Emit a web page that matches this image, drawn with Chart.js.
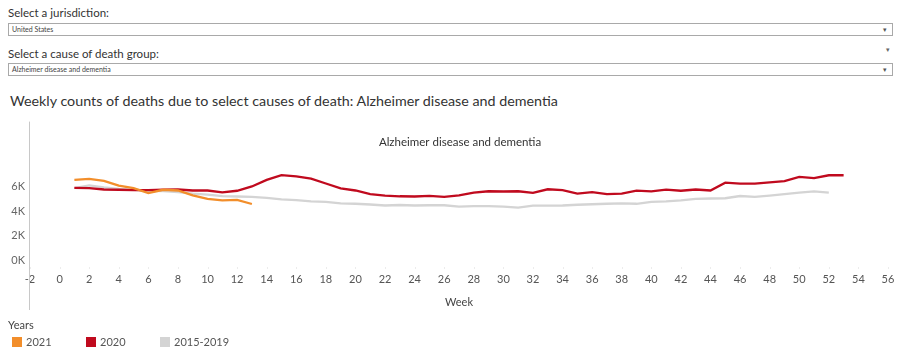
<!DOCTYPE html>
<html>
<head>
<meta charset="utf-8">
<script src="https://cdn.jsdelivr.net/npm/chart.js@4.4.1/dist/chart.umd.min.js"></script>
<style>
  html, body { margin: 0; padding: 0; background: #fff; }
  body { width: 907px; height: 356px; position: relative; overflow: hidden; font-family: Lato, "Open Sans", sans-serif; color: #333; }
  .lbl { position: absolute; left: 8px; font-size: 11.5px; color: #333; white-space: nowrap; }
  .box { position: absolute; left: 8px; width: 883px; height: 11px; border: 1px solid #a9a9a9; background: #fff; }
  .box span { position: absolute; left: 3px; top: 1px; font-size: 7px; line-height: 9px; color: #444; }
  .box i { position: absolute; right: 5px; top: 0px; font-style: normal; font-size: 7px; line-height: 10px; color: #555; }
  .arrow { position: absolute; font-size: 7px; color: #666; }
  .title { position: absolute; left: 10px; top: 92px; font-size: 14.3px; color: #333; white-space: nowrap; }
  #wrap { position: absolute; left: 0; top: 110px; width: 907px; height: 210px; }
  #legend { position: absolute; left: 8px; top: 318px; font-size: 11px; color: #555; }
  #legend .head { color: #444; margin-bottom: 3px; }
  #legend .item { position: absolute; top: 17px; white-space: nowrap; }
  #legend .sw { display: inline-block; width: 10px; height: 10px; vertical-align: -1px; margin-right: 4px; }
</style>
</head>
<body>
<div class="lbl" style="top:6px">Select a jurisdiction:</div>
<div class="box" style="top:23px"><span>United States</span><i>&#9662;</i></div>
<div class="lbl" style="top:47px">Select a cause of death group:</div>
<div class="arrow" style="left:886px; top:45px">&#9662;</div>
<div class="box" style="top:63px"><span>Alzheimer disease and dementia</span><i>&#9662;</i></div>
<div class="title">Weekly counts of deaths due to select causes of death: Alzheimer disease and dementia</div>
<div id="wrap"><canvas id="c" width="907" height="210"></canvas></div>
<div id="legend"></div>
<script>
// ---- data ----
const chartSubtitle = "Alzheimer disease and dementia";
const seriesNames = ["2021", "2020", "2015-2019"];
const seriesColors = ["#f28e2b", "#c00a1e", "#d4d4d4"];

const weeks2021 = [1,2,3,4,5,6,7,8,9,10,11,12,13];
const deaths2021 = [6550,6630,6470,6080,5870,5470,5740,5680,5290,5000,4870,4920,4580];

const weeks2020 = [1,2,3,4,5,6,7,8,9,10,11,12,13,14,15,16,17,18,19,20,21,22,23,24,25,26,27,
                   28,29,30,31,32,33,34,35,36,37,38,39,40,41,42,43,44,45,46,47,48,49,50,51,52,53];
const deaths2020 = [5900,5870,5760,5740,5710,5710,5740,5760,5680,5680,5530,5660,6010,6540,6930,6830,6650,
                    6250,5860,5680,5390,5270,5210,5190,5250,5160,5280,5510,5620,5600,5620,5490,5780,5710,
                    5430,5550,5390,5430,5670,5610,5750,5660,5760,5680,6320,6240,6240,6340,6450,6790,6690,
                    6920,6920];

const weeksBase = [1,2,3,4,5,6,7,8,9,10,11,12,13,14,15,16,17,18,19,20,21,22,23,24,25,26,
                   27,28,29,30,31,32,33,34,35,36,37,38,39,40,41,42,43,44,45,46,47,48,49,50,51,52];
const deathsBase = [5880,6100,5940,5820,5740,5660,5630,5550,5420,5350,5230,5190,5160,5080,4950,4900,4800,
                    4750,4640,4600,4540,4460,4500,4460,4480,4480,4370,4400,4400,4370,4290,4450,4450,4460,
                    4520,4560,4600,4630,4600,4760,4790,4870,5000,5030,5050,5230,5160,5270,5390,5500,5610,
                    5500];

const xTickMin = -2, xTickMax = 56, xTickStep = 2;
const yTickValues = [0, 2000, 4000, 6000];
const yMin = -630, yMax = 11290;
const xAxisTitle = "Week";
const legendTitle = "Years";

// ---- build ----
function pts(xs, ys) { return xs.map((x, i) => ({ x: x, y: ys[i] })); }
const seriesWeeks = [weeks2021, weeks2020, weeksBase];
const seriesVals = [deaths2021, deaths2020, deathsBase];

const datasets = seriesNames.map((n, i) => ({
  label: n,
  data: pts(seriesWeeks[i], seriesVals[i]),
  borderColor: seriesColors[i],
  backgroundColor: seriesColors[i],
  borderWidth: 2.3,
  pointRadius: 0,
  tension: 0,
  fill: false
}));

const FONT = "Lato, 'Open Sans', sans-serif";

const extras = {
  id: "extras",
  afterDraw(chart) {
    const ctx = chart.ctx, a = chart.chartArea;
    ctx.save();
    ctx.strokeStyle = "#c8c8c8";
    ctx.lineWidth = 1;
    ctx.beginPath();
    ctx.moveTo(Math.round(a.left) - 0.5, a.top);
    ctx.lineTo(Math.round(a.left) - 0.5, a.bottom + 42);
    ctx.stroke();
    ctx.fillStyle = "#ececec";
    const xs = chart.scales.x;
    for (let v = xTickMin; v <= xTickMax; v += xTickStep) {
      const px = xs.getPixelForValue(v);
      ctx.fillRect(Math.round(px), a.bottom - 1, 1, 2);
    }
    ctx.fillStyle = "#333";
    ctx.font = "11.5px " + FONT;
    ctx.textAlign = "center";
    ctx.textBaseline = "middle";
    ctx.fillText(chartSubtitle, (a.left + a.right) / 2 + 1, a.top + 21);
    ctx.restore();
  }
};

new Chart(document.getElementById("c"), {
  type: "line",
  data: { datasets: datasets },
  plugins: [extras],
  options: {
    responsive: false,
    animation: false,
    layout: { padding: { top: 7, right: 19, left: 0, bottom: 11 } },
    plugins: { legend: { display: false }, tooltip: { enabled: false } },
    scales: {
      x: {
        type: "linear",
        min: xTickMin, max: xTickMax,
        grid: { display: false, drawTicks: false },
        border: { display: false },
        ticks: { stepSize: xTickStep, color: "#555", font: { size: 11, family: FONT }, padding: 5, maxRotation: 0, autoSkip: false },
        title: { display: true, text: xAxisTitle, color: "#444", font: { size: 11, family: FONT }, padding: { top: 6, bottom: 0 } },
        afterFit(s) { s.height = 41; }
      },
      y: {
        type: "linear",
        min: yMin, max: yMax,
        grid: { display: false, drawTicks: false },
        border: { display: false },
        afterBuildTicks(s) { s.ticks = yTickValues.map(v => ({ value: v })); },
        ticks: { color: "#666", font: { size: 11, family: FONT }, padding: 5,
                 callback: v => (v / 1000) + "K" },
        afterFit(s) { s.width = 30; }
      }
    }
  }
});

// legend
const lg = document.getElementById("legend");
const head = document.createElement("div");
head.className = "head";
head.textContent = legendTitle;
lg.appendChild(head);
const legendX = [4, 78, 152];
seriesNames.forEach((n, i) => {
  const it = document.createElement("div");
  it.className = "item";
  it.style.left = legendX[i] + "px";
  const sw = document.createElement("span");
  sw.className = "sw";
  sw.style.background = seriesColors[i];
  it.appendChild(sw);
  it.appendChild(document.createTextNode(n));
  lg.appendChild(it);
});
</script>
</body>
</html>
